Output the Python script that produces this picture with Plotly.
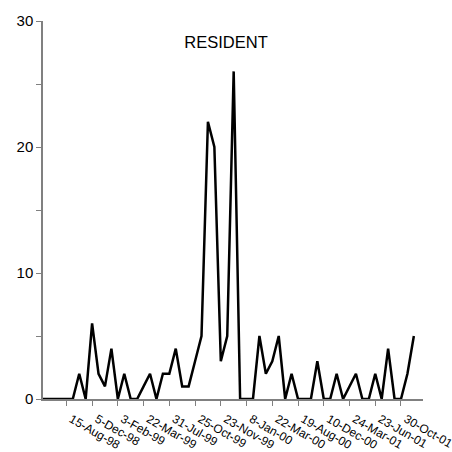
import plotly.graph_objects as go

values = [0, 0, 0, 0, 0, 0, 2, 0, 6, 2, 1, 4, 0, 2, 0, 0, 1, 2, 0, 2,
          2, 4, 1, 1, 3, 5, 22, 20, 3, 5, 26, 0, 0, 0, 5, 2, 3, 5, 0, 2,
          0, 0, 0, 3, 0, 0, 2, 0, 1, 2, 0, 0, 2, 0, 4, 0, 0, 2, 5]
tick_positions = [4, 8, 12, 16, 20, 24, 28, 32, 36, 40, 44, 48, 52, 56]
tick_labels = ["15-Aug-98", "5-Dec-98", "3-Feb-99", "22-Mar-99", "31-Jul-99",
               "25-Oct-99", "23-Nov-99", "8-Jan-00", "22-Mar-00", "19-Aug-00",
               "10-Dec-00", "24-Mar-01", "23-Jun-01", "30-Oct-01"]
y_tickvals = [0, 5, 10, 15, 20, 25, 30]
y_ticktext = ["0", "", "10", "", "20", "", "30"]
title_text = "RESIDENT"

x = list(range(len(values)))
font_family = "Arial, Liberation Sans, sans-serif"

fig = go.Figure()
fig.add_trace(go.Scatter(x=x, y=values, mode="lines",
                         line=dict(color="black", width=2.5),
                         hoverinfo="skip", showlegend=False))

fig.update_layout(
    width=452, height=452,
    margin=dict(l=43, r=29, t=21, b=53, pad=0, autoexpand=False),
    paper_bgcolor="white", plot_bgcolor="white",
    font=dict(family=font_family, color="black"),
    title=dict(text=title_text, x=0.5, xref="container", xanchor="center",
               y=1 - 42.5 / 452, yref="container", yanchor="middle",
               font=dict(size=16.5, family=font_family, color="black")),
    xaxis=dict(range=[0.37, 59.42], tickmode="array", tickvals=tick_positions,
               ticktext=tick_labels, tickangle=30, ticks="outside", ticklen=5,
               tickcolor="#808080", showline=True, linecolor="#808080", linewidth=1.5,
               showgrid=False, zeroline=False, tickfont=dict(size=12),
               ticklabelshift=5, ticklabelstandoff=2,
               ticklabeloverflow="allow", automargin=False),
    yaxis=dict(range=[0, 30], tickmode="array", tickvals=y_tickvals,
               ticktext=y_ticktext, ticks="outside", ticklen=5,
               tickcolor="#808080", showline=True, linecolor="#808080", linewidth=1.5,
               showgrid=False, zeroline=False, tickfont=dict(size=15),
               automargin=False),
)

fig.write_html("out.html", config={"displayModeBar": False},
               post_script="document.body.style.margin='0';document.body.style.padding='0';")
